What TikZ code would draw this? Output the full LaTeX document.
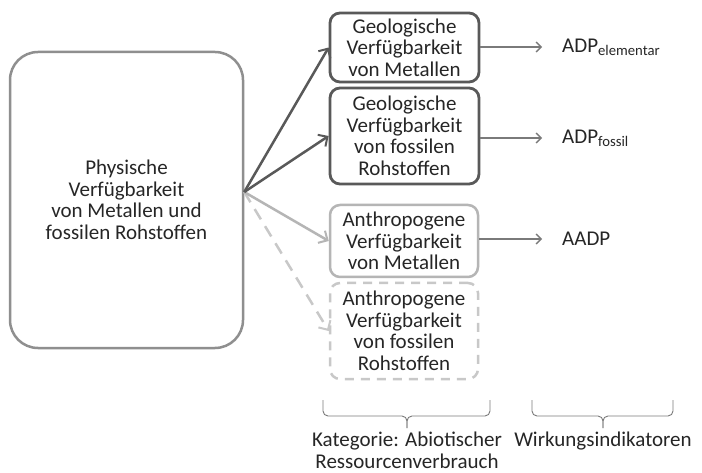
\documentclass[tikz,border=0pt]{standalone}
\usepackage{fontspec}
\setmainfont{Carlito}
\usetikzlibrary{arrows.meta}
\definecolor{txt}{HTML}{262626}
\definecolor{dark}{HTML}{595959}
\definecolor{mid}{HTML}{8F8F8F}
\definecolor{light}{HTML}{B5B5B5}
\definecolor{lighter}{HTML}{C8C8C8}
\definecolor{thin}{HTML}{7A7A7A}
\tikzset{
  base/.style={font=\fontsize{21}{21.5}\selectfont, text=txt, align=center, inner sep=0pt},
  bigbox/.style={base, draw=mid, line width=2.5pt, rounded corners=28pt, minimum width=233pt, minimum height=296pt},
  geobox/.style={base, draw=dark, line width=2.8pt, rounded corners=10pt, minimum width=149pt},
  anthbox/.style={base, draw=light, line width=2.5pt, rounded corners=10pt, minimum width=148pt},
  anthdash/.style={base, draw=lighter, line width=2.5pt, rounded corners=10pt, minimum width=148pt, dash pattern=on 9pt off 7pt},
  mainarrow/.style={line width=2.5pt, -{Straight Barb[length=7pt,width=14pt,line width=2pt]}},
  idxarrow/.style={draw=thin, line width=1.3pt, -{Straight Barb[length=5pt,width=10pt,line width=1.3pt]}, shorten >=20pt},
  idx/.style={base, anchor=west},
  bracepath/.style={draw=thin, line width=0.9pt, rounded corners=5pt},
  bracelabel/.style={base}
}
\begin{document}
\begin{tikzpicture}[x=1pt,y=-1pt]
\fill[white] (0,0) rectangle (702,473);
\useasboundingbox (0,0) rectangle (702,473);

\node[bigbox] (phys) at (126.5,200) {Physische\\Verfügbarkeit\\von Metallen und\\fossilen Rohstoffen};

\node[geobox, minimum height=69pt] (g1) at (404.5,47.5) {Geologische\\Verfügbarkeit\\von Metallen};
\node[geobox, minimum height=96pt] (g2) at (404.5,136) {Geologische\\Verfügbarkeit\\von fossilen\\Rohstoffen};
\node[anthbox, minimum height=72pt] (a1) at (404,241) {Anthropogene\\Verfügbarkeit\\von Metallen};
\node[anthdash, minimum height=96pt] (a2) at (404,331) {Anthropogene\\Verfügbarkeit\\von fossilen\\Rohstoffen};

\coordinate (o) at (phys.east |- 0,192);

\draw[mainarrow, draw=lighter, dash pattern=on 12pt off 8pt] (o) -- (a2.west);
\draw[mainarrow, draw=light] (o) -- (a1.west);
\draw[mainarrow, draw=dark] (o) -- (g2.west);
\draw[mainarrow, draw=dark] (o) -- (g1.west);

\node[idx] (i1) at (562,47) {ADP\textsubscript{elementar}};
\node[idx] (i2) at (562,138) {ADP\textsubscript{fossil}};
\node[idx] (i3) at (562,239) {AADP};

\draw[idxarrow] (g1.east |- i1.west) -- (i1.west);
\draw[idxarrow] (g2.east |- i2.west) -- (i2.west);
\draw[idxarrow] (a1.east |- i3.west) -- (i3.west);

% braces
\draw[bracepath] (323,400) -- (323,416) -- (407,416) -- (407,428);
\draw[bracepath] (490,400) -- (490,416) -- (407,416) -- (407,428);
\draw[bracepath] (532,400) -- (532,416) -- (603,416) -- (603,428);
\draw[bracepath] (673,400) -- (673,416) -- (603,416) -- (603,428);

\node[bracelabel, anchor=north] (kat) at (407,432) {Kategorie: Abiotischer\\Ressourcenverbrauch};
\node[bracelabel, anchor=north] (wirk) at (603,432) {Wirkungsindikatoren};
\end{tikzpicture}
\end{document}
